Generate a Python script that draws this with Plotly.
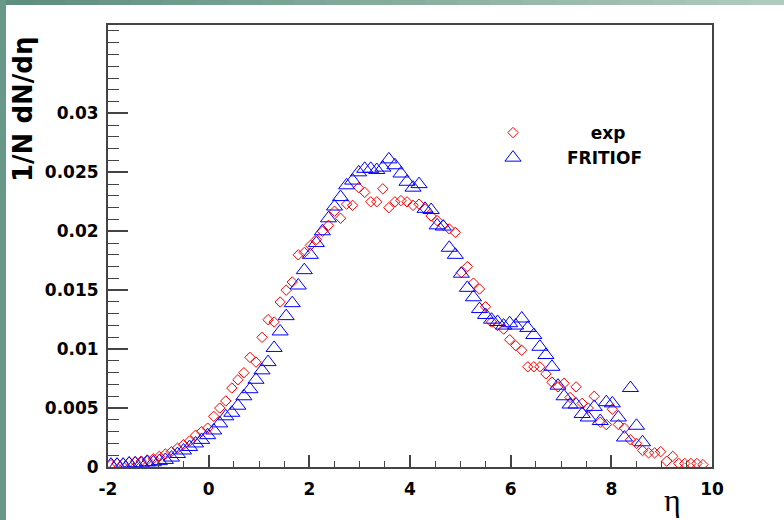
import plotly.graph_objects as go

# ---------------- data ----------------
eta_exp = [-1.94, -1.82, -1.70, -1.58, -1.46, -1.34, -1.22, -1.10, -0.98, -0.86,
           -0.74, -0.62, -0.50, -0.38, -0.26, -0.14, -0.02, 0.10, 0.22, 0.34,
           0.46, 0.58, 0.70, 0.82, 0.94, 1.06, 1.18, 1.30, 1.42, 1.54,
           1.66, 1.78, 1.90, 2.02, 2.14, 2.26, 2.38, 2.50, 2.62, 2.74,
           2.86, 2.98, 3.10, 3.22, 3.34, 3.46, 3.58, 3.70, 3.82, 3.94,
           4.06, 4.18, 4.30, 4.42, 4.54, 4.66, 4.78, 4.90, 5.02, 5.14,
           5.26, 5.38, 5.50, 5.62, 5.74, 5.86, 5.98, 6.10, 6.22, 6.34,
           6.46, 6.58, 6.70, 6.82, 6.94, 7.06, 7.18, 7.30, 7.42, 7.54,
           7.66, 7.78, 7.90, 8.02, 8.14, 8.26, 8.38, 8.50, 8.62, 8.74,
           8.86, 8.98, 9.10, 9.22, 9.34, 9.46, 9.58, 9.70, 9.82]

exp_vals = [0.0002, 0.0003, 0.0003, 0.0004, 0.00045, 0.0005, 0.0006, 0.0007, 0.0009, 0.0011,
            0.0013, 0.0016, 0.0019, 0.0022, 0.0027, 0.0030, 0.0033, 0.0043, 0.0050, 0.0056,
            0.0067, 0.0074, 0.0080, 0.0093, 0.0089, 0.0110, 0.0125, 0.0123, 0.0140, 0.0150,
            0.0157, 0.0180, 0.0182, 0.0188, 0.0193, 0.0200, 0.0205, 0.0217, 0.0211, 0.0223,
            0.0222, 0.0237, 0.0233, 0.0225, 0.0225, 0.0236, 0.0220, 0.0225, 0.0226, 0.0225,
            0.0222, 0.0223, 0.0219, 0.0213, 0.0209, 0.0205, 0.0202, 0.0199, 0.0165, 0.0170,
            0.0156, 0.0151, 0.0136, 0.0123, 0.0120, 0.0117, 0.0108, 0.0103, 0.0099, 0.0085,
            0.0085, 0.0085, 0.0079, 0.0072, 0.0068, 0.0071, 0.0059, 0.0068, 0.0054, 0.0050,
            0.0060, 0.0038, 0.0036, 0.0049, 0.0036, 0.0033, 0.0023, 0.0020, 0.0014, 0.0012,
            0.0012, 0.0013, 0.0005, 0.0009, 0.0003, 0.0003, 0.0003, 0.0003, 0.0002]

eta_fritiof = [-1.94, -1.82, -1.70, -1.58, -1.46, -1.34, -1.22, -1.10, -0.98, -0.86,
               -0.74, -0.62, -0.50, -0.38, -0.26, -0.14, -0.02, 0.10, 0.22, 0.34,
               0.46, 0.58, 0.70, 0.82, 0.94, 1.06, 1.18, 1.30, 1.42, 1.54,
               1.66, 1.78, 1.90, 2.02, 2.14, 2.26, 2.38, 2.50, 2.62, 2.74,
               2.86, 2.98, 3.10, 3.22, 3.34, 3.46, 3.58, 3.70, 3.82, 3.94,
               4.06, 4.18, 4.30, 4.42, 4.54, 4.66, 4.78, 4.90, 5.02, 5.14,
               5.26, 5.38, 5.50, 5.62, 5.74, 5.86, 5.98, 6.10, 6.22, 6.34,
               6.46, 6.58, 6.70, 6.82, 6.94, 7.06, 7.18, 7.30, 7.42, 7.54,
               7.66, 7.78, 7.90, 8.02, 8.14, 8.26, 8.38, 8.50, 8.62]

fritiof_vals = [0.0002, 0.0002, 0.0002, 0.0003, 0.0003, 0.0003, 0.0004, 0.0004, 0.0005, 0.0006,
                0.0008, 0.0011, 0.0014, 0.0017, 0.0020, 0.0023, 0.0027, 0.0031, 0.0037, 0.0043,
                0.0046, 0.0052, 0.0060, 0.0066, 0.0074, 0.0082, 0.0089, 0.0101, 0.0115, 0.0128,
                0.0139, 0.0154, 0.0167, 0.0180, 0.0190, 0.0200, 0.0211, 0.0221, 0.0229, 0.0239,
                0.0243, 0.0250, 0.0253, 0.0253, 0.0252, 0.0254, 0.0261, 0.0256, 0.0249, 0.0242,
                0.0237, 0.0240, 0.0219, 0.0218, 0.0205, 0.0204, 0.0186, 0.0180, 0.0164, 0.0152,
                0.0144, 0.0134, 0.0129, 0.0125, 0.0123, 0.0120, 0.0122, 0.0120, 0.0126, 0.0118,
                0.0112, 0.0102, 0.0095, 0.0085, 0.0069, 0.0060, 0.0053, 0.0053, 0.0045, 0.0042,
                0.0051, 0.0039, 0.0055, 0.0054, 0.0042, 0.0025, 0.0067, 0.0035, 0.0021]

x_tickvals = [-2, 0, 2, 4, 6, 8, 10]
x_ticktext = ["-2", "0", "2", "4", "6", "8", "10"]
y_tickvals = [0, 0.005, 0.01, 0.015, 0.02, 0.025, 0.03]
y_ticktext = ["0", "0.005", "0.01", "0.015", "0.02", "0.025", "0.03"]

series_names = ["exp", "FRITIOF"]

# ---------------- figure ----------------
W, H = 784, 520
ML, MR, MT, MB = 108, 72, 25, 53
PW, PH = W - ML - MR, H - MT - MB

def px_to_paper_x(px):
    return (px - ML) / PW

def px_to_paper_y(py):
    return (H - MB - py) / PH

BOLD = "DejaVu Sans"

fig = go.Figure()
fig.add_trace(go.Scatter(
    x=eta_exp, y=exp_vals, mode="markers", name="\u00a0\u00a0\u00a0\u00a0" + series_names[0],
    marker=dict(symbol="diamond-open", size=8, color="#ff0000", line=dict(width=1, color="#ff0000")),
))
fig.add_trace(go.Scatter(
    x=eta_fritiof, y=fritiof_vals, mode="markers", name=series_names[1],
    marker=dict(symbol="triangle-up-open", size=14, color="#0000ff", line=dict(width=1, color="#0000ff")),
))

axis_common = dict(
    showline=True, mirror=True, linecolor="#444444", linewidth=2,
    showgrid=False, zeroline=False, ticks="inside", tickcolor="#444444",
    tickfont=dict(family=BOLD, size=17, color="#000000", weight="bold"),
)

fig.update_xaxes(
    range=[-2, 10], tickvals=x_tickvals, ticktext=x_ticktext,
    ticklen=12, tickwidth=1.5, ticklabelstandoff=6,
    minor=dict(ticks="inside", ticklen=6, dtick=0.5, tick0=0, tickcolor="#444444", tickwidth=1),
    **axis_common,
)
fig.update_yaxes(
    range=[0, 0.0375], tickvals=y_tickvals, ticktext=y_ticktext,
    ticklen=20, tickwidth=1.5, ticklabelstandoff=4,
    minor=dict(ticks="inside", ticklen=11, dtick=0.001, tick0=0, tickcolor="#444444", tickwidth=1),
    **axis_common,
)

# slide background strips (top gradient, left band)
shapes = []
c0 = (94, 142, 126)
c1 = (176, 203, 190)
nseg = 24
for i in range(nseg):
    t = i / (nseg - 1)
    col = "rgb(%d,%d,%d)" % tuple(int(c0[k] + (c1[k] - c0[k]) * t) for k in range(3))
    shapes.append(dict(type="rect", xref="paper", yref="paper",
                       x0=px_to_paper_x(i * W / nseg), x1=px_to_paper_x((i + 1) * W / nseg + 1),
                       y0=px_to_paper_y(5), y1=px_to_paper_y(0),
                       fillcolor=col, line=dict(width=0), layer="above"))
shapes.append(dict(type="rect", xref="paper", yref="paper",
                   x0=px_to_paper_x(0), x1=px_to_paper_x(6),
                   y0=px_to_paper_y(H), y1=px_to_paper_y(0),
                   fillcolor="rgb(104,152,136)", line=dict(width=0), layer="above"))

annotations = [
    dict(text="1/N dN/d\u03b7", xref="paper", yref="paper",
         x=px_to_paper_x(23), y=px_to_paper_y(110), xanchor="center", yanchor="middle",
         textangle=-90, showarrow=False,
         font=dict(family=BOLD, size=26, color="#000000", weight="bold")),
    dict(text="\u03b7", xref="paper", yref="paper",
         x=px_to_paper_x(672), y=px_to_paper_y(500), xanchor="center", yanchor="middle",
         showarrow=False, font=dict(family="Liberation Serif", size=32, color="#000000")),
]

fig.update_layout(
    width=W, height=H,
    margin=dict(l=ML, r=MR, t=MT, b=MB, pad=0),
    paper_bgcolor="#ffffff", plot_bgcolor="#ffffff",
    shapes=shapes, annotations=annotations,
    showlegend=True,
    legend=dict(
        x=px_to_paper_x(459), y=px_to_paper_y(115), xanchor="left", yanchor="top",
        bgcolor="rgba(0,0,0,0)", borderwidth=0, itemwidth=98,
        font=dict(family=BOLD, size=17, color="#000000", weight="bold"),
        tracegroupgap=0,
    ),
)

fig.write_html(
    "out.html",
    config={"displayModeBar": False},
    post_script="document.body.style.margin='0px';document.body.style.padding='0px';",
)
